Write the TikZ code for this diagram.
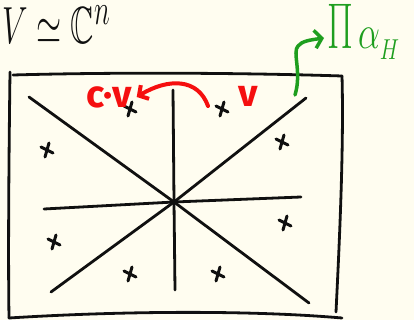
\documentclass[tikz,border=0pt]{standalone}
\usepackage{amsmath,amssymb}
\usepackage{fontspec}
\setsansfont{Fira Sans}
\usetikzlibrary{positioning,arrows.meta}
\definecolor{paper}{HTML}{FFFDF0}
\definecolor{ink}{HTML}{101010}
\definecolor{redpen}{HTML}{F50F0F}
\definecolor{greenpen}{HTML}{1E9E1E}

\begin{document}
\begin{tikzpicture}[x=1pt, y=-1pt, line cap=round, line join=round,
    pen/.style={ink, line width=2.8pt},
    crossmark/.style={ink, line width=3pt},
    redlabel/.style={redpen, font=\fontsize{38}{38}\selectfont\sffamily\bfseries, inner sep=0pt},
    redarc/.style={redpen, line width=4pt, -{Straight Barb[length=7pt, width=16pt, line width=4pt]}},
    greenarc/.style={greenpen, line width=3.5pt, -{Straight Barb[length=7pt, width=18pt, line width=3.5pt]}}]
  \fill[paper] (0,0) rectangle (414,320);
  \useasboundingbox (0,0) rectangle (414,320);

  % title
  \node[ink, inner sep=0pt, anchor=north west] (title) at (2,6)
    {\scalebox{1.3}[2.1]{\Huge$V\simeq\mathbb{C}^n$}};

  % frame
  \draw[pen] (13,75) .. controls (120,72) and (250,73) .. (342,76);
  \draw[pen] (10,72) .. controls (9,150) and (8,250) .. (9,318);
  \draw[pen] (342,76) .. controls (344,150) and (339,250) .. (336,312);
  \draw[pen] (9,318) .. controls (120,311) and (250,310) .. (342,318);

  % hyperplanes through the origin
  \coordinate (O) at (174,202);
  \coordinate (d1a) at (29,97);   \coordinate (d1b) at (309,303);
  \coordinate (d2a) at (306,98);  \coordinate (d2b) at (51,292);
  \coordinate (va) at (173,90);   \coordinate (vb) at (175,290);
  \coordinate (ha) at (44,209);   \coordinate (hb) at (301,197);
  \draw[pen] (d1a) -- (O) -- (d1b);
  \draw[pen] (d2a) -- (O) -- (d2b);
  \draw[pen] (va) -- (O) -- (vb);
  \draw[pen] (ha) -- (O) -- (hb);

  % points of the complement
  \foreach \p in {(130,109),(222,109),(47,150),(282,142),(54,242),(285,223),(130,274),(218,274)}
    \draw[crossmark, shift={\p}] (-6,-3) -- (6,3) (2,-7) -- (-2,7);

  % the action of c
  \node[redlabel] (v) at (248,96) {v};
  \node[redlabel] (cv) at (109,97) {c·v};
  \coordinate (arcstart) at (208,106);
  \draw[redarc] (arcstart) .. controls (198,78) and (168,78) .. ([xshift=5pt]cv.east);

  % defining polynomial
  \node[greenpen, inner sep=0pt, anchor=west] (poly) at (327,32)
    {\scalebox{1.5}[2.6]{\Huge$\Pi$}\hspace{5pt}\scalebox{1.4}[1.9]{\Huge$\alpha$}\raisebox{-11pt}{\scalebox{1.5}[2]{\Large$H$}}};
  \coordinate (gstart) at (295,95);
  \draw[greenarc] (gstart) .. controls (302,72) and (292,52) .. (298,46) .. controls (302,41) and (310,40) .. ([xshift=-3pt,yshift=-6pt]poly.west);
\end{tikzpicture}
\end{document}
